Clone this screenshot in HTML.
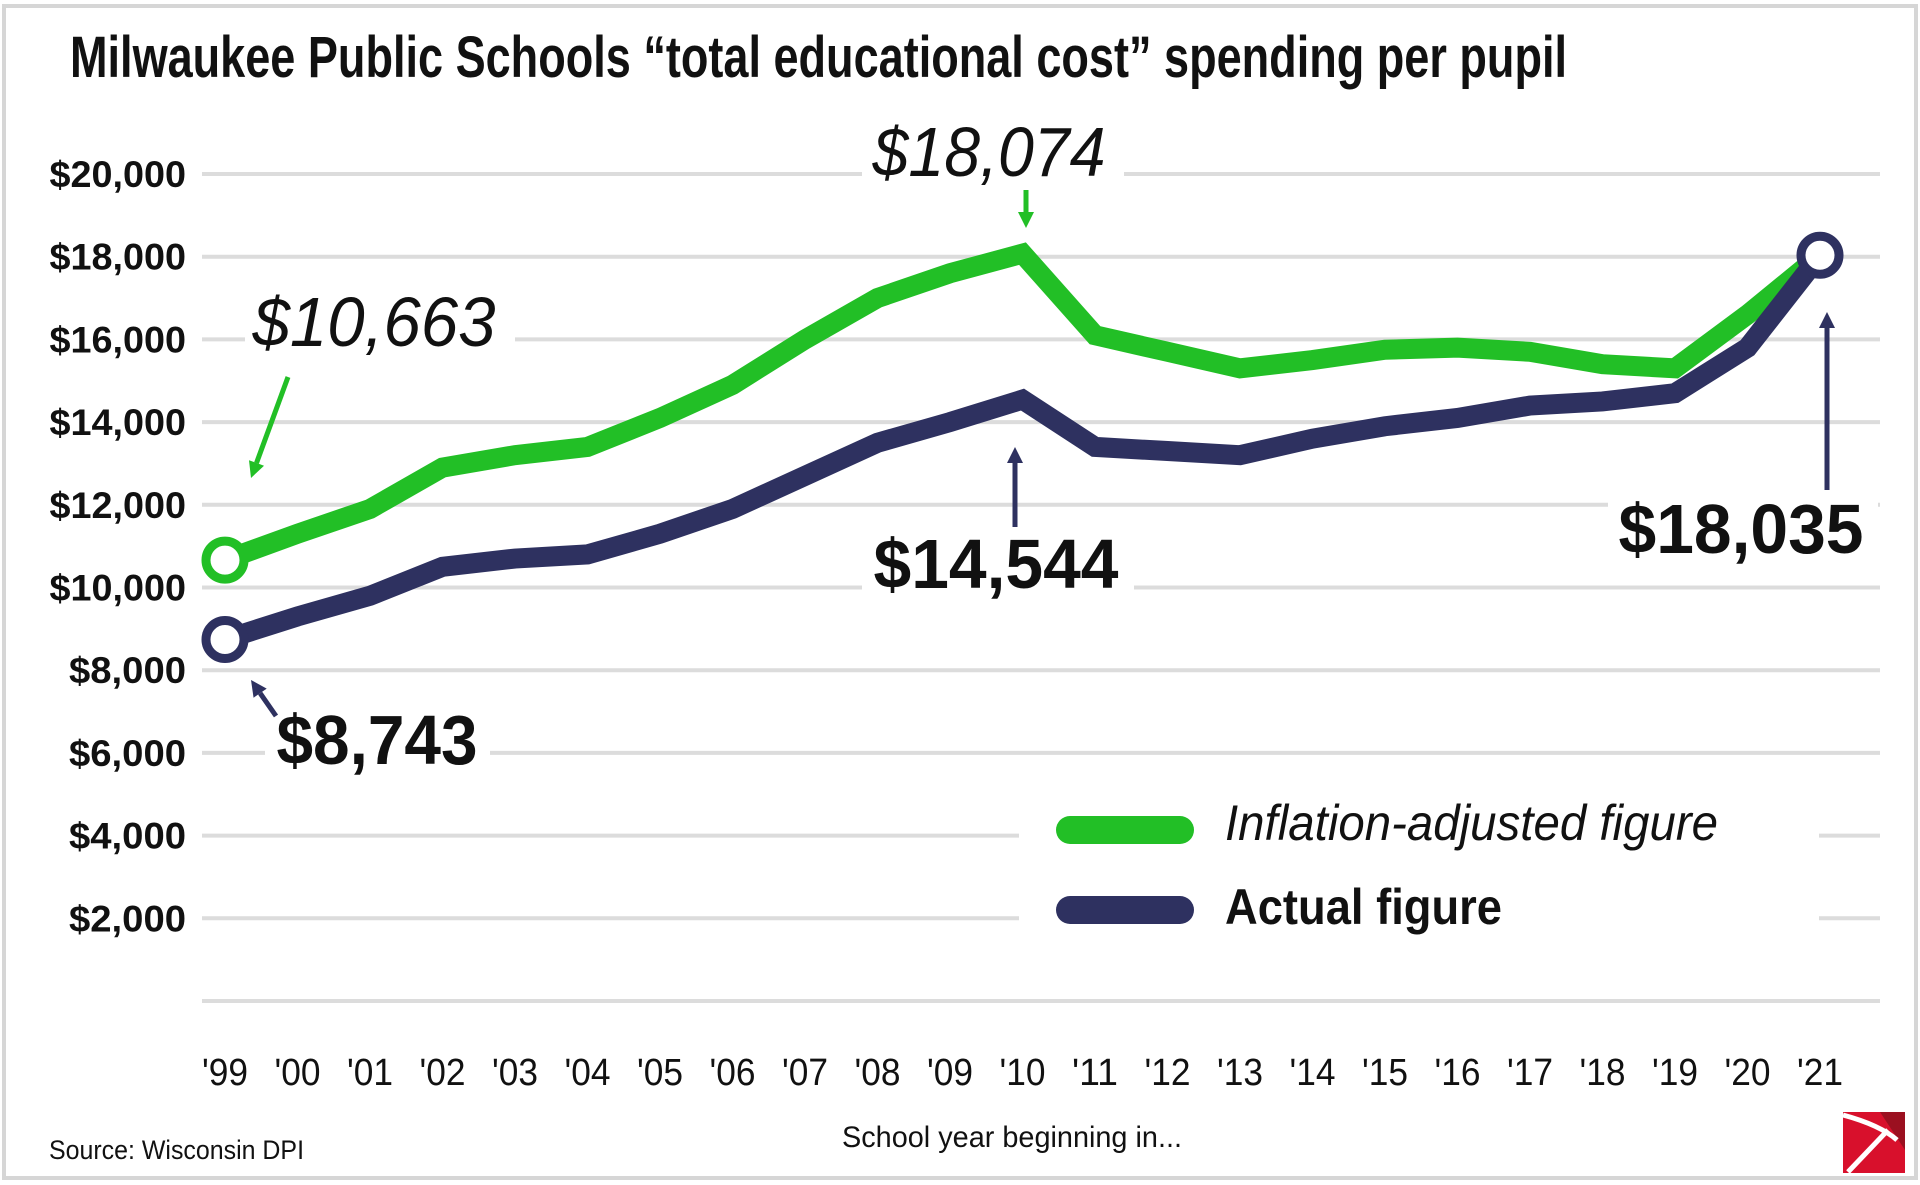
<!DOCTYPE html>
<html><head><meta charset="utf-8"><style>
html,body{margin:0;padding:0;background:#fff}
svg{display:block}
text{font-family:"Liberation Sans Narrow","Liberation Sans",sans-serif}
</style></head><body>
<svg id="chart" width="1920" height="1185" viewBox="0 0 1920 1185" xmlns="http://www.w3.org/2000/svg">
<rect x="4" y="6" width="1912" height="1172" fill="#fff" stroke="#d6d6d6" stroke-width="4"/>
<text x="70" y="77" font-size="58" font-weight="bold" textLength="1497" lengthAdjust="spacingAndGlyphs" fill="#111">Milwaukee Public Schools “total educational cost” spending per pupil</text>
<g id="grid"></g>
<g id="yticks"></g>
<g id="xticks"></g>
<g id="masks"></g>
<g id="series"></g>
<g id="annot"></g>
<text x="49" y="1159" font-size="27" textLength="255" lengthAdjust="spacingAndGlyphs" fill="#111">Source: Wisconsin DPI</text>
<text x="842" y="1147" font-size="30" textLength="340" lengthAdjust="spacingAndGlyphs" fill="#111">School year beginning in...</text>
<g>
<rect x="1843" y="1112" width="62" height="61" fill="#d8102c"/>
<polygon points="1880,1112 1905,1112 1905,1150" fill="#9b1020"/>
<path d="M1843 1115 Q1880 1125 1897 1140" stroke="#fff" stroke-width="5" fill="none"/>
<line x1="1888" y1="1130" x2="1848" y2="1172" stroke="#fff" stroke-width="5"/>
</g>
</svg>
<script>
const years = ["'99","'00","'01","'02","'03","'04","'05","'06","'07","'08","'09","'10","'11","'12","'13","'14","'15","'16","'17","'18","'19","'20","'21"];
const inflationAdjusted = [10663,11300,11900,12900,13200,13400,14100,14900,16000,17000,17600,18074,16100,15700,15300,15500,15750,15800,15700,15400,15300,16600,18035];
const actual = [8743,9300,9800,10500,10700,10800,11300,11900,12700,13500,14000,14544,13400,13300,13200,13600,13900,14100,14400,14500,14700,15800,18035];
const yTicks = [2000,4000,6000,8000,10000,12000,14000,16000,18000,20000];
const yTickLabels = ["$2,000","$4,000","$6,000","$8,000","$10,000","$12,000","$14,000","$16,000","$18,000","$20,000"];

const NS="http://www.w3.org/2000/svg";
const X0=225,X1=1820,Y0=1001,Y20=174;
function xs(i){return X0+(X1-X0)*i/(years.length-1);}
function ys(v){return Y0-(Y0-Y20)*v/20000;}
function mk(tag,attrs,parent,txt){const e=document.createElementNS(NS,tag);for(const k in attrs)e.setAttribute(k,attrs[k]);if(txt!==undefined)e.textContent=txt;document.getElementById(parent).appendChild(e);return e;}

[0].concat(yTicks).forEach(v=>{
  const l=mk('line',{x1:202,x2:1880,y1:ys(v),y2:ys(v),stroke:'#dcdcdc','stroke-width':4},'grid');
  
  
});
yTicks.forEach((v,i)=>{
  const t=mk('text',{x:186,y:ys(v)+13,'font-size':37,'font-weight':'bold','text-anchor':'end',fill:'#111',textLength:yTickLabels[i].length*19.5,lengthAdjust:'spacingAndGlyphs'},'yticks',yTickLabels[i]);
  
  
});
years.forEach((y,i)=>{
  const t=mk('text',{x:xs(i),y:1085,'font-size':38,'text-anchor':'middle',fill:'#111',textLength:46,lengthAdjust:'spacingAndGlyphs'},'xticks',y);
  
  
});
[[1019,795,800,150],[245,295,270,70],[862,125,262,75],[862,535,272,70],[1608,495,270,70],[265,705,225,70]].forEach(r=>{
  mk('rect',{x:r[0],y:r[1],width:r[2],height:r[3],fill:'#fff'},'masks');
});
function series(data,color,name){
  const p=mk('polyline',{points:data.map((v,i)=>xs(i)+','+ys(v)).join(' '),fill:'none',stroke:color,'stroke-width':20,'stroke-linejoin':'miter','stroke-linecap':'round'},'series');
  
  
}
series(inflationAdjusted,'#22bf26','inflation-adjusted-line');
series(actual,'#2e3160','actual-line');
function marker(i,data,color,name){
  const c=mk('circle',{cx:xs(i),cy:ys(data[i]),r:19,fill:'#fff',stroke:color,'stroke-width':9},'series');
  
  
}
marker(0,inflationAdjusted,'#22bf26','start-marker-inflation');
marker(0,actual,'#2e3160','start-marker-actual');
marker(years.length-1,actual,'#2e3160','end-marker');

function label(x,y,txt,bold,w,name){
  const t=mk('text',{x:x,y:y,'font-size':70,'text-anchor':'middle',fill:'#111','font-weight':bold?'bold':'normal','font-style':bold?'normal':'italic',textLength:w,lengthAdjust:'spacingAndGlyphs'},'annot',txt);
  
  
}
label(989,176,'$18,074',false,233,'peak-inflation-label');
label(374,346,'$10,663',false,243,'start-inflation-label');
label(996,588,'$14,544',true,245,'peak-actual-label');
label(1741,553,'$18,035',true,245,'end-label');
label(377,764,'$8,743',true,201,'start-actual-label');
function arrow(x1,y1,x2,y2,color,name){
  const dx=x2-x1,dy=y2-y1,L=Math.hypot(dx,dy),ux=dx/L,uy=dy/L,h=16,w=8;
  const bx=x2-ux*h,by=y2-uy*h;
  const g=mk('g',{},'annot');
  
  
  const l=document.createElementNS(NS,'line');
  [['x1',x1],['y1',y1],['x2',bx],['y2',by],['stroke',color],['stroke-width',5]].forEach(a=>l.setAttribute(a[0],a[1]));
  g.appendChild(l);
  const p=document.createElementNS(NS,'polygon');
  p.setAttribute('points',`${x2},${y2} ${bx-uy*w},${by+ux*w} ${bx+uy*w},${by-ux*w}`);
  p.setAttribute('fill',color);g.appendChild(p);
}
arrow(288,377,251,478,'#22bf26','arrow-start-inflation');
arrow(1026,190,1026,228,'#22bf26','arrow-peak-inflation');
arrow(1015,527,1015,447,'#2e3160','arrow-peak-actual');
arrow(1827,490,1827,312,'#2e3160','arrow-end');
arrow(276,716,251,680,'#2e3160','arrow-start-actual');

mk('line',{x1:1070,x2:1180,y1:830,y2:830,stroke:'#22bf26','stroke-width':28,'stroke-linecap':'round'},'annot');
mk('line',{x1:1070,x2:1180,y1:910,y2:910,stroke:'#2e3160','stroke-width':28,'stroke-linecap':'round'},'annot');
const l1=mk('text',{x:1225,y:840,'font-size':50,'font-style':'italic',fill:'#111',textLength:493,lengthAdjust:'spacingAndGlyphs'},'annot','Inflation-adjusted figure');


const l2=mk('text',{x:1225,y:924,'font-size':50,'font-weight':'bold',fill:'#111',textLength:277,lengthAdjust:'spacingAndGlyphs'},'annot','Actual figure');


</script>
</body></html>
